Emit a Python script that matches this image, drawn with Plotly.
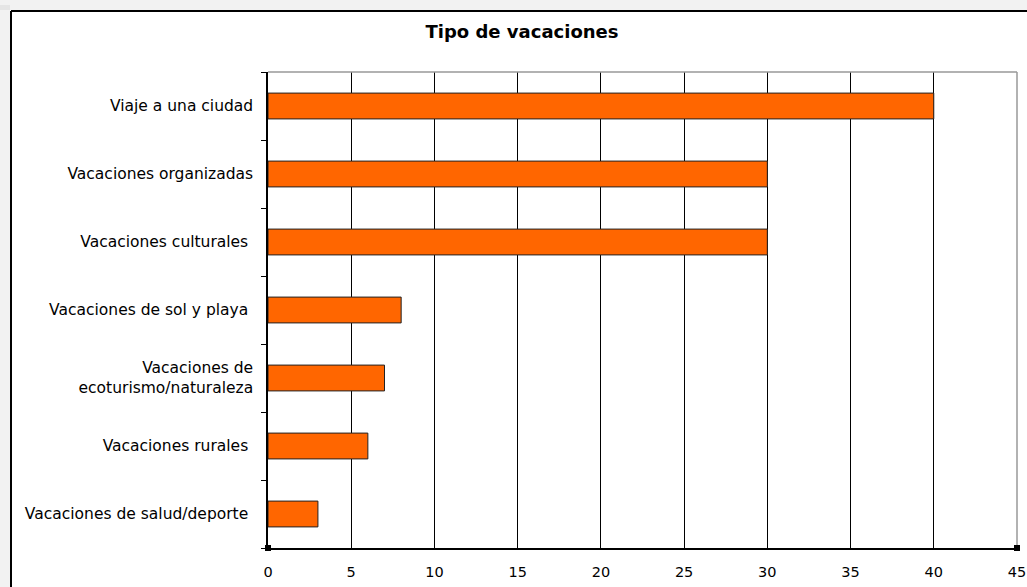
import plotly.graph_objects as go

categories = [
    "Viaje a una ciudad",
    "Vacaciones organizadas",
    "Vacaciones culturales ",
    "Vacaciones de sol y playa ",
    "Vacaciones de<br>ecoturismo/naturaleza",
    "Vacaciones rurales ",
    "Vacaciones de salud/deporte ",
]
values = [40, 30, 30, 8, 7, 6, 3]
x_ticks = [0, 5, 10, 15, 20, 25, 30, 35, 40, 45]

W, H = 1027, 587
L, T = 268, 72
R = W - 1017
B = H - 548
pw, ph = W - L - R, H - T - B

def px(x):
    return (x - L) / pw

def py(y):
    return 1 - (y - T) / ph

fig = go.Figure(go.Bar(
    x=values,
    y=categories,
    orientation="h",
    marker=dict(color="#FF6600", line=dict(color="#222222", width=1)),
    width=0.38,
))

font = "DejaVu Sans"
fig.update_layout(
    width=W, height=H,
    margin=dict(l=L, r=R, t=T, b=B, autoexpand=False),
    paper_bgcolor="white",
    plot_bgcolor="white",
    showlegend=False,
    title=dict(text="<b>Tipo de vacaciones</b>", x=522 / W, xanchor="center",
               y=1 - 32 / H, yanchor="middle",
               font=dict(family=font, size=18, color="black")),
    font=dict(family=font, size=15, color="black"),
    xaxis=dict(
        range=[0, 45], tickvals=x_ticks, ticktext=[str(v) for v in x_ticks],
        automargin=False,
        showgrid=True, gridcolor="black", gridwidth=1,
        showline=True, linecolor="black", linewidth=1.5,
        zeroline=False,
        ticks="outside", ticklen=10, tickcolor="rgba(0,0,0,0)",
        tickfont=dict(family=font, size=14.5, color="black"),
    ),
    yaxis=dict(
        categoryorder="array", categoryarray=categories[::-1],
        automargin=False,
        showgrid=False,
        showline=True, linecolor="black", linewidth=1.5,
        ticks="outside", ticklen=5, tickcolor="black", tickson="boundaries",
        ticklabelstandoff=10,
        tickfont=dict(family=font, size=15.5, color="black"),
    ),
    shapes=[
        # gray top and right plot border
        dict(type="line", xref="paper", yref="paper", x0=0, x1=1, y0=1, y1=1,
             line=dict(color="#999999", width=1.5), layer="above"),
        dict(type="line", xref="paper", yref="paper", x0=1, x1=1, y0=0, y1=1,
             line=dict(color="#999999", width=1.5), layer="above"),
        # outer frame (shadow and black border)
        dict(type="line", xref="paper", yref="paper", x0=px(11), x1=px(1040),
             y0=py(11), y1=py(11), line=dict(color="black", width=2)),
        dict(type="line", xref="paper", yref="paper", x0=px(11), x1=px(11),
             y0=py(11), y1=py(600), line=dict(color="black", width=2)),
        dict(type="line", xref="paper", yref="paper", x0=px(0), x1=px(1040),
             y0=py(5), y1=py(5), line=dict(color="rgba(0,0,0,0.05)", width=10)),
        dict(type="line", xref="paper", yref="paper", x0=px(5), x1=px(5),
             y0=py(5), y1=py(600), line=dict(color="rgba(0,0,0,0.05)", width=10)),
        # selection handles
        dict(type="rect", xref="paper", yref="paper", x0=px(265), x1=px(271),
             y0=py(545), y1=py(551), fillcolor="black", line=dict(width=0)),
        dict(type="rect", xref="paper", yref="paper", x0=px(1014), x1=px(1020),
             y0=py(545), y1=py(551), fillcolor="black", line=dict(width=0)),
    ],
)

fig.write_html("out.html", config={"displayModeBar": False},
               post_script="document.body.style.margin='0';")
